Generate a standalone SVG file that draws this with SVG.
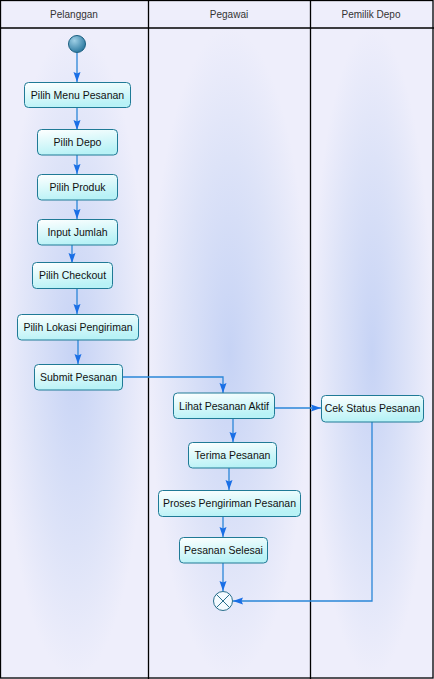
<svg xmlns="http://www.w3.org/2000/svg" width="434" height="679" viewBox="0 0 434 679">
<defs>
<radialGradient id="lane" cx="0.5" cy="0.5" r="0.5">
<stop offset="0" stop-color="#c6d3f5"/>
<stop offset="0.6" stop-color="#dde3f8"/>
<stop offset="1" stop-color="#eeeefb"/>
</radialGradient>
<linearGradient id="nodeFill" x1="0" y1="0" x2="0.3" y2="1">
<stop offset="0" stop-color="#ffffff"/>
<stop offset="1" stop-color="#b8f2f6"/>
</linearGradient>
<radialGradient id="startFill" cx="0.35" cy="0.3" r="0.8">
<stop offset="0" stop-color="#9fd0e6"/>
<stop offset="1" stop-color="#1f6f98"/>
</radialGradient>
<marker id="arr" markerWidth="10" markerHeight="8" refX="10" refY="4" orient="auto" markerUnits="userSpaceOnUse">
<path d="M0,0.5 L10,4 L0,7.5 L1.5,4 z" fill="#1a6fe6"/>
</marker>
</defs>
<style>
.hdr{font-family:"Liberation Sans",Arial,sans-serif;font-size:10px;fill:#333;text-anchor:middle}
.lbl{font-family:"Liberation Sans",Arial,sans-serif;font-size:10.5px;fill:#111;text-anchor:middle}
.node{fill:url(#nodeFill);stroke:#1f7a96;stroke-width:1}
.edge{fill:none;stroke:#2a86d8;stroke-width:1.3;marker-end:url(#arr)}
.grid{stroke:#000;stroke-width:1.3;fill:none}
</style>
<g id="lanes">
<rect x="0" y="0" width="434" height="679" fill="#eeeefb"/>
<rect x="1" y="28" width="147" height="650" fill="url(#lane)"/>
<rect x="149" y="28" width="161" height="650" fill="url(#lane)"/>
<rect x="311" y="28" width="122" height="650" fill="url(#lane)"/>
<rect x="0.5" y="0.5" width="432.5" height="677.5" class="grid"/>
<line x1="0" y1="28" x2="434" y2="28" class="grid"/>
<line x1="148.5" y1="0" x2="148.5" y2="679" class="grid"/>
<line x1="310.5" y1="0" x2="310.5" y2="679" class="grid"/>
<text x="74" y="18" class="hdr">Pelanggan</text>
<text x="229" y="18" class="hdr">Pegawai</text>
<text x="371" y="18" class="hdr">Pemilik Depo</text>
</g>
<g id="connectors">
<path class="edge" d="M77,53 L77,82"/>
<path class="edge" d="M77,108 L77,130"/>
<path class="edge" d="M77,155 L77,174"/>
<path class="edge" d="M77,200 L77,219"/>
<path class="edge" d="M72,245 L72,263"/>
<path class="edge" d="M77,288 L77,314"/>
<path class="edge" d="M78,340 L78,364"/>
<path class="edge" d="M123,377 L223,377 L223,393"/>
<path class="edge" d="M274,408 L321,408"/>
<path class="edge" d="M233,418 L233,442"/>
<path class="edge" d="M229,468 L229,490"/>
<path class="edge" d="M223,517 L223,537"/>
<path class="edge" d="M223,563 L223,591"/>
<path class="edge" d="M372,422 L372,601 L233,601"/>
</g>
<g id="start"><circle cx="77" cy="44" r="8.5" fill="url(#startFill)" stroke="#1b5f80" stroke-width="1"/></g>
<g id="n1"><rect x="24.5" y="82.5" width="106" height="25" rx="4" class="node"/><text x="77.5" y="99" class="lbl">Pilih Menu Pesanan</text></g>
<g id="n2"><rect x="37.5" y="129.5" width="80" height="25.5" rx="4" class="node"/><text x="77.5" y="146" class="lbl">Pilih Depo</text></g>
<g id="n3"><rect x="37.5" y="174.5" width="80" height="25.5" rx="4" class="node"/><text x="77.5" y="191" class="lbl">Pilih Produk</text></g>
<g id="n4"><rect x="37.5" y="219.5" width="80" height="25.5" rx="4" class="node"/><text x="77.5" y="236" class="lbl">Input Jumlah</text></g>
<g id="n5"><rect x="32.5" y="262.5" width="80" height="26" rx="4" class="node"/><text x="72.5" y="279" class="lbl">Pilih Checkout</text></g>
<g id="n6"><rect x="17.5" y="314.5" width="121" height="25.5" rx="4" class="node"/><text x="78" y="331" class="lbl">Pilih Lokasi Pengiriman</text></g>
<g id="n7"><rect x="34.5" y="364.5" width="88" height="25.5" rx="4" class="node"/><text x="78.5" y="381" class="lbl">Submit Pesanan</text></g>
<g id="n8"><rect x="173.5" y="393" width="101" height="25.5" rx="4" class="node"/><text x="224" y="410" class="lbl">Lihat Pesanan Aktif</text></g>
<g id="n9"><rect x="321.5" y="395.5" width="102" height="26.5" rx="4" class="node"/><text x="372.5" y="412" class="lbl">Cek Status Pesanan</text></g>
<g id="n10"><rect x="188.5" y="442.5" width="88" height="25.5" rx="4" class="node"/><text x="232.5" y="459" class="lbl">Terima Pesanan</text></g>
<g id="n11"><rect x="158.5" y="490.5" width="142" height="26" rx="4" class="node"/><text x="229.5" y="507" class="lbl">Proses Pengiriman Pesanan</text></g>
<g id="n12"><rect x="179.5" y="537.5" width="88" height="25.5" rx="4" class="node"/><text x="223.5" y="554" class="lbl">Pesanan Selesai</text></g>
<g id="end"><circle cx="223" cy="601" r="9.5" fill="#f4fbff" stroke="#2a6f8c" stroke-width="1"/><path d="M216.3,594.3 L229.7,607.7 M229.7,594.3 L216.3,607.7" stroke="#2a6f8c" stroke-width="1"/></g>
</svg>
